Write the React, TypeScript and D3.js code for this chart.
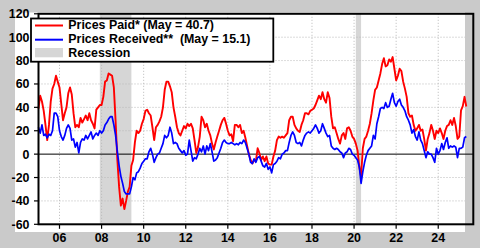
import React from 'react';
import * as d3 from 'd3';

// Monthly data, Jan 2005 .. May 2025
const START_YEAR = 2005;

const pricesPaid: number[] = [
  // 2005
  39, 50, 45, 37, 25, 12, 25, 45, 56, 60, 67, 62,
  // 2006
  57, 43, 29, 35, 40, 52, 57, 51, 35, 23, 25, 23,
  // 2007
  31, 27, 30, 33, 29, 35, 29, 26, 22, 38, 40, 42,
  // 2008
  42, 49, 62, 63, 69, 68, 67, 57, 28, -5, -28, -44,
  // 2009
  -38, -47, -40, -32, -28, -10, -5, 10, 20, 18, 20, 26,
  // 2010
  30, 37, 38, 35, 33, 23, 12, 23, 25, 28, 32, 40,
  // 2011
  55, 62, 62, 58, 53, 40, 32, 23, 18, 16, 20, 24,
  // 2012
  22, 26, 24, 26, 22, 12, 1, 6, 15, 32, 29, 23,
  // 2013
  26, 20, 16, 9, 4, 10, 15, 20, 25, 29, 31, 26,
  // 2014
  20, 16, 17, 11, 25, 25, 23, 25, 18, 20, 14, 7,
  // 2015
  0, -5, -8, -5, -6, 5, 1, -5, -2, -6, -2, -8,
  // 2016
  -9, -9, -2, 3, 12, 15, 14, 15, 14, 16, 18, 29,
  // 2017
  32, 32, 25, 22, 20, 19, 25, 29, 35, 35, 34, 37,
  // 2018
  38, 39, 42, 46, 50, 47, 53, 47, 44, 53, 48, 32,
  // 2019
  22, 23, 18, 13, 9, 16, 18, 13, 22, 23, 20, 15,
  // 2020
  13, 9, 3, -11, -19, 5, 13, 15, 20, 26, 35, 46,
  // 2021
  55, 57, 63, 69, 77, 82, 75, 76, 81, 79, 83, 73,
  // 2022
  63, 67, 73, 71, 62, 56, 49, 35, 32, 33, 25, 20,
  // 2023
  22, 25, 20, 21, 13, 3, 13, 18, 25, 20, 13, 20,
  // 2024
  18, 22, 18, 13, 20, 24, 25, 29, 25, 31, 24, 13,
  // 2025
  15, 37.5, 41, 49, 40.7,
];

const pricesReceived: number[] = [
  // 2005
  23, 18, 25, 16, 17, 14, 17, 16, 20, 35, 35, 32,
  // 2006
  20, 15, 12, 16, 22, 25, 22, 12, 13, 6, 10, 1,
  // 2007
  10, 13, 12, 16, 13, 16, 19, 13, 16, 18, 16, 20,
  // 2008
  18, 20, 25, 27, 30, 32, 32, 25, 16, 2, -10, -19,
  // 2009
  -25, -32, -34, -34, -34, -28, -20, -22, -16, -15, -12, -8,
  // 2010
  -6, -4, -4, 2, 5, 0, -7, -3, 0, 1, 5, 9,
  // 2011
  16, 14, 16, 23, 18, 9, 10, 9, 5, 3, 1, 3,
  // 2012
  -1, 0, 12, 3, -6, -3, -4, 0, 5, 2, 7, 0,
  // 2013
  7, 3, 9, 2, -6, -5, -3, 1, 5, 10, 12, 10,
  // 2014
  9, 9, 10, 9, 8, 9, 8, 10, 9, 12, 10, 5,
  // 2015
  0, -7, -8, -4, -7, -3, -2, -6, -10, -11, -8, -13,
  // 2016
  -11, -16, -9, -8, -6, -3, -4, 0, 1, 3, 3, 10,
  // 2017
  16, 19, 16, 10, 9, 10, 7, 12, 16, 18, 19, 18,
  // 2018
  20, 22, 25, 22, 18, 20, 26, 22, 18, 15, 16, 7,
  // 2019
  5, 4, 5, 4, 2, 1, -3, 1, 2, 5, 4, 0,
  // 2020
  -1, -3, -5, -11, -25, -15, -7, -1, 3, 5, 7, 16,
  // 2021
  13, 26, 32, 39, 40, 39, 44, 40, 41, 47, 52, 44,
  // 2022
  41, 45, 47, 42, 40, 37, 32, 29, 25, 18, 21, 15,
  // 2023
  12, 19, 12, 9, 3, -3, 2, 0, 0, -3, -7, 5,
  // 2024
  0, 3, 9, 4, 10, 14, 5, 7, 6, 7, 6, -3,
  // 2025
  5, 5, 6, 14, 15.1,
];

const yTicks = [-60, -40, -20, 0, 20, 40, 60, 80, 100, 120];
const xTickYears = [2006, 2008, 2010, 2012, 2014, 2016, 2018, 2020, 2022, 2024];
const xTickLabels = ['06', '08', '10', '12', '14', '16', '18', '20', '22', '24'];
const recessions: [number, number][] = [
  [2007 + 11 / 12, 2009 + 5 / 12],
  [2020 + 1 / 12, 2020 + 4 / 12],
];
const legendLabels = ['Prices Paid* (May = 40.7)', 'Prices Received**  (May = 15.1)', 'Recession'];

const W = 480;
const H = 248;
const FONT = '"Liberation Sans", Arial, Helvetica, sans-serif';

export default function App() {
  const left = 38.5;
  const right = 473.3;
  const top = 13.8;
  const bottom = 224.3;
  const panelRight = 465;

  const x = d3.scaleLinear().domain([2005, 2025 + 8 / 12]).range([38.46, right]);
  const y = d3.scaleLinear().domain([-60, 120]).range([bottom, top]);

  const t = (i: number) => START_YEAR + i / 12;
  const line = d3
    .line<number>()
    .x((_, i) => x(t(i)))
    .y((d) => y(d));

  const gridColor = '#b8b8b8';

  return (
    <svg
      width={W}
      height={H}
      viewBox={`0 0 ${W} ${H}`}
      style={{ position: 'fixed', left: 0, top: 0, display: 'block' }}
    >
      <rect x={0} y={0} width={W} height={H} fill="#cacaca" />
      <rect x={15} y={12.5} width={panelRight - 15} height={232 - 12.5} fill="#ffffff" />

      {recessions.map(([a, b], i) => (
        <rect key={i} x={x(a)} y={top} width={x(b) - x(a)} height={bottom - top} fill="#d6d6d6" />
      ))}

      {/* grid */}
      {yTicks
        .filter((v) => v !== 0 && v !== -60 && v !== 120)
        .map((v) => (
          <line
            key={'gy' + v}
            x1={left}
            x2={panelRight}
            y1={y(v)}
            y2={y(v)}
            stroke={gridColor}
            strokeWidth={1}
            strokeDasharray="1 2"
          />
        ))}
      {xTickYears.map((yr) => (
        <line
          key={'gx' + yr}
          x1={x(yr)}
          x2={x(yr)}
          y1={top}
          y2={bottom}
          stroke={gridColor}
          strokeWidth={1}
          strokeDasharray="1 2"
        />
      ))}

      {/* zero line */}
      <line x1={left} x2={right} y1={y(0)} y2={y(0)} stroke="#000" strokeWidth={1} />

      {/* series */}
      <path d={line(pricesPaid) || ''} fill="none" stroke="#ff0000" strokeWidth={1.9} strokeLinejoin="round" />
      <path d={line(pricesReceived) || ''} fill="none" stroke="#0000ff" strokeWidth={1.7} strokeLinejoin="round" />

      {/* frame */}
      <rect x={left} y={top} width={right - left} height={bottom - top} fill="none" stroke="#000" strokeWidth={2} />

      {/* y ticks + labels */}
      {yTicks.map((v) => (
        <g key={'yt' + v}>
          <line x1={34} x2={left} y1={y(v)} y2={y(v)} stroke="#000" strokeWidth={1.2} />
          <text
            x={29.5}
            y={y(v)}
            dy="0.36em"
            textAnchor="end"
            fontFamily={FONT}
            fontWeight="bold"
            fontSize={12.4}
            fill="#000"
          >
            {v}
          </text>
        </g>
      ))}

      {/* x ticks + labels */}
      {xTickYears.map((yr, i) => (
        <g key={'xt' + yr}>
          <line x1={x(yr)} x2={x(yr)} y1={bottom} y2={bottom + 4.5} stroke="#000" strokeWidth={1.2} />
          <text
            x={x(yr)}
            y={241.6}
            textAnchor="middle"
            fontFamily={FONT}
            fontWeight="bold"
            fontSize={12.4}
            fill="#000"
          >
            {xTickLabels[i]}
          </text>
        </g>
      ))}

      {/* legend */}
      <g>
        <rect x={31} y={18.5} width={242.3} height={43.2} fill="#fff" stroke="#000" strokeWidth={1.8} />
        <line x1={35} x2={63} y1={25.5} y2={25.5} stroke="#ff0000" strokeWidth={2} />
        <line x1={35} x2={63} y1={39.7} y2={39.7} stroke="#0000ff" strokeWidth={2} />
        <rect x={35} y={48} width={28} height={9.3} fill="#d6d6d6" />
        {legendLabels.map((s, i) => (
          <text
            key={s}
            x={68.3}
            y={[29.2, 43.4, 57.2][i]}
            fontFamily={FONT}
            fontWeight="bold"
            fontSize={12.4}
            fill="#000"
            style={{ whiteSpace: 'pre' }}
          >
            {s}
          </text>
        ))}
      </g>
    </svg>
  );
}
